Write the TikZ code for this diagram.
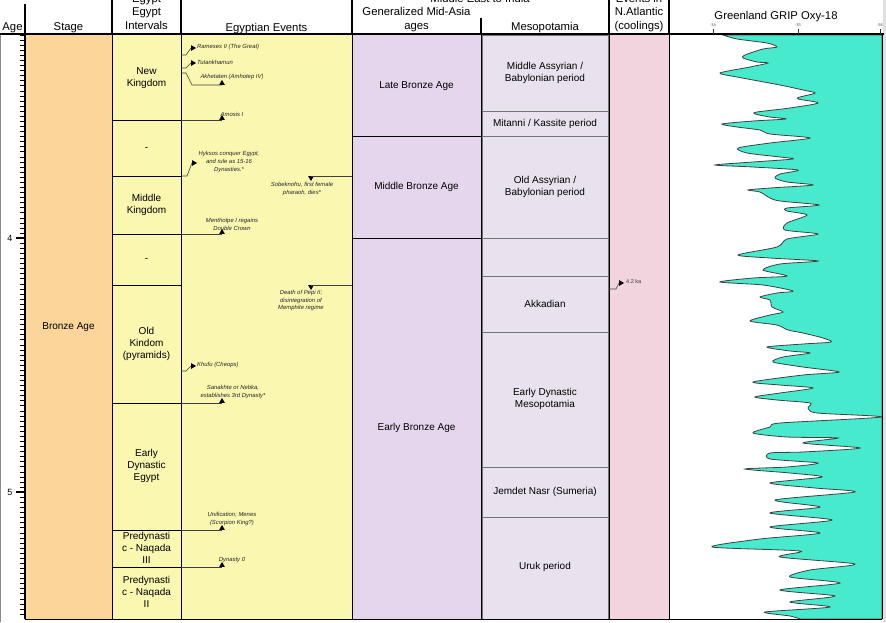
\documentclass[tikz,border=0pt]{standalone}
\usepackage{fontspec}
\setmainfont{Liberation Sans}
\usetikzlibrary{shapes.geometric}
\definecolor{stagec}{RGB}{252,213,155}
\definecolor{egc}{RGB}{250,247,176}
\definecolor{asiac}{RGB}{230,214,237}
\definecolor{mesoc}{RGB}{233,225,238}
\definecolor{atlc}{RGB}{242,212,222}
\definecolor{gripc}{RGB}{72,234,205}
\begin{document}
\begin{tikzpicture}[x=1pt,y=-1pt,
  hdr/.style={font=\fontsize{11.3}{13.5}\selectfont, inner sep=0, anchor=base},
  lab/.style={font=\fontsize{10}{12}\selectfont, align=center, inner sep=0},
  evt/.style={font=\fontsize{5.9}{7.8}\selectfont\itshape, align=center, inner sep=0, text=black!85},
  tick/.style={font=\fontsize{4}{5}\selectfont, inner sep=0, text=black!70},
  triup/.style={regular polygon, regular polygon sides=3, fill=black, draw=none, inner sep=0, minimum size=6.5pt},
  triright/.style={triup, shape border rotate=-90},
  tridown/.style={triup, shape border rotate=180},
  lead/.style={draw=black!75, line width=0.6pt},
  sep/.style={draw=black, line width=0.7pt},
  hsep/.style={draw=black, line width=1.6pt},
  mbox/.style={draw=black!55, line width=0.5pt, fill=mesoc}
]
\useasboundingbox (0,0) rectangle (886,622);
% column fills
\fill[stagec] (25,35) rectangle (112,619);
\fill[egc] (112,35) rectangle (352,619);
\fill[asiac] (352,35) rectangle (481,619);
\fill[mesoc] (481,35) rectangle (609,619);
\fill[atlc] (609,35) rectangle (669,619);
\fill[black!12] (883,0) rectangle (886,622);
% mesopotamia boxes
\foreach \a/\b in {35/111,111/136,136/238,238/276,276/332,332/467,467/517,517/619}
  \draw[mbox] (482,\a) rectangle (608,\b);
% GRIP curve
\filldraw[fill=gripc, draw=black!75, line width=0.8pt]
  (723,35) plot[smooth, tension=0.45] coordinates {
  (723,35) (737,39) (767,43) (777,47) (763,49) (745,55) (743,58) (757,62) (768,63) (750,67)
  (720,73) (737,77) (780,85) (803,90) (815,93) (800,97) (798,99) (818,103) (790,108) (757,112)
  (755,114) (770,117) (786,119) (753,121) (722,124) (737,127) (760,130) (770,134) (810,138)
  (770,143) (738,148) (747,153) (780,157) (793,159) (753,162) (715,165) (753,167) (798,170)
  (780,174) (775,178) (787,182) (813,185) (770,188) (748,190) (760,192) (770,198) (780,201)
  (819,205) (787,208) (787,211) (807,215) (787,223) (785,230) (818,234) (787,239) (777,247)
  (738,255) (770,258) (818,261) (780,264) (763,270) (787,276) (753,278) (720,282) (763,285)
  (793,291) (777,293) (760,297) (770,300) (772,307) (783,312) (770,315) (750,321) (777,325)
  (788,330) (803,333) (823,338) (831,342) (803,344) (767,347) (790,351) (810,353) (783,357)
  (773,362) (803,367) (839,372) (803,375) (753,382) (780,385) (813,388) (780,393) (755,397)
  (777,400) (810,403) (808,408) (817,413) (881,417) (780,423) (770,427) (753,433) (787,437)
  (838,438) (803,443) (860,448) (803,452) (770,453) (770,459) (818,463) (787,467) (745,469)
  (790,473) (822,477) (770,483) (815,488) (855,492) (775,500) (820,507) (770,513) (832,520)
  (770,527) (820,533) (760,539) (712,547) (800,551) (780,557) (855,564) (810,570) (790,577)
  (840,583) (780,590) (835,596) (790,602) (830,607) (765,612) (790,616) (800,619)}
  -- (882,619) -- (882,35) -- cycle;
% body separators
\foreach \x in {112,181,352,481,609,669,882}
  \draw[sep] (\x,35) -- (\x,619);
\draw[black!45, line width=0.8pt] (0.5,35) -- (0.5,622);
\draw[sep] (25,619) -- (882,619);
% egypt intervals boundaries
\foreach \y in {120,176,234,285,403,530,567}
  \draw[sep] (112,\y) -- (181,\y);
% mid-asia boundaries
\foreach \y in {136,238}
  \draw[sep] (352,\y) -- (481,\y);
% header lines
\foreach \x in {112,181,352,609,669}
  \draw[hsep] (\x,0) -- (\x,34);
\draw[hsep] (25,4) -- (25,34);
\draw[hsep] (481,18) -- (481,34);
\draw[hsep] (0,34) -- (884,34);
% age axis
\draw[line width=1.6pt] (25,34) -- (25,619);
\foreach \i in {0,...,114}
  \draw[black, line width=0.7pt] (20,{35+\i*5.08}) -- (25,{35+\i*5.08});
\draw[line width=2pt] (16,238.2) -- (25,238.2);
\draw[line width=2pt] (16,492.2) -- (25,492.2);
\node[font=\fontsize{9}{10}\selectfont, inner sep=0] (a4) at (10,238.2) {4};
\node[font=\fontsize{9}{10}\selectfont, inner sep=0] (a5) at (10,492.2) {5};
% headers
\node[hdr] (hAge) at (12.5,30) {Age};
\node[hdr] (hStage) at (68.5,30) {Stage};
\node[hdr] (hEg1) at (146.5,2) {Egypt};
\node[hdr] (hEg2) at (146.5,15.5) {Egypt};
\node[hdr] (hEg3) at (146.5,29) {Intervals};
\node[hdr] (hEv) at (266.5,31) {Egyptian Events};
\node[hdr] (hME) at (480,2) {Middle East to India};
\node[hdr] (hMA1) at (416.5,15.5) {Generalized Mid-Asia};
\node[hdr] (hMA2) at (416.5,29) {ages};
\node[hdr] (hMes) at (545,30) {Mesopotamia};
\node[hdr] (hNA1) at (639,2) {Events in};
\node[hdr] (hNA2) at (639,15.5) {N.Atlantic};
\node[hdr] (hNA3) at (639,29) {(coolings)};
\node[hdr] (hGr) at (776,19) {Greenland GRIP Oxy-18};
\foreach \x/\t [count=\k] in {713/-34,798/-35,880/-36}{
  \draw[black!80, line width=0.6pt] (\x,29) -- (\x,34);
  \node[tick] (gt\k) at (\x,25) {\t};
}
% stage
\node[lab] (stage) at (68.5,327) {Bronze Age};
% egypt intervals
\node[lab] (i1) at (146.5,78) {New\\Kingdom};
\node[lab] (i2) at (146.5,149) {-};
\node[lab] (i3) at (146.5,205) {Middle\\Kingdom};
\node[lab] (i4) at (146.5,260) {-};
\node[lab] (i5) at (146.5,344) {Old\\Kindom\\(pyramids)};
\node[lab] (i6) at (146.5,466) {Early\\Dynastic\\Egypt};
\node[lab] (i7) at (146.5,548) {Predynasti\\c - Naqada\\III};
\node[lab] (i8) at (146.5,592) {Predynasti\\c - Naqada\\II};
% mid-asia ages
\node[lab] (m1) at (416.5,86) {Late Bronze Age};
\node[lab] (m2) at (416.5,187) {Middle Bronze Age};
\node[lab] (m3) at (416.5,428) {Early Bronze Age};
% mesopotamia
\node[lab] (s1) at (545,73) {Middle Assyrian /\\Babylonian period};
\node[lab] (s2) at (545,123.5) {Mitanni / Kassite period};
\node[lab] (s3) at (545,187) {Old Assyrian /\\Babylonian period};
\node[lab] (s4) at (545,304) {Akkadian};
\node[lab] (s5) at (545,399) {Early Dynastic\\Mesopotamia};
\node[lab] (s6) at (545,492) {Jemdet Nasr (Sumeria)};
\node[lab] (s7) at (545,567) {Uruk period};
% Egyptian events
\coordinate (ra0) at (181,55); \coordinate (ra1) at (186,55);
\node[triright, anchor=west] (tra) at (191,48) {};
\draw[lead] (ra0) -- (ra1) -- (tra.west);
\node[evt, anchor=west] (era) at (197,47) {Rameses II (The Great)};

\coordinate (tu0) at (181,68); \coordinate (tu1) at (186,68);
\node[triright, anchor=west] (ttu) at (191,63) {};
\draw[lead] (tu0) -- (tu1) -- (ttu.west);
\node[evt, anchor=west] (etu) at (197,62) {Tutankhamun};

\coordinate (ak0) at (181,73); \coordinate (ak1) at (186,73); \coordinate (ak2) at (192,85);
\node[triup, anchor=south] (tak) at (222,85) {};
\draw[lead] (ak0) -- (ak1) -- (ak2) -- (tak.south);
\node[evt] (eak) at (232,77) {Akhetaten (Amhotep IV)};

\coordinate (am0) at (181,120);
\node[triup, anchor=south] (tam) at (222,120) {};
\draw[lead] (am0) -- (tam.south);
\node[evt] (eam) at (232,114) {Amosis I};

\coordinate (hy0) at (181,176); \coordinate (hy1) at (187,176);
\node[triright, anchor=west] (thy) at (192,163) {};
\draw[lead] (hy0) -- (hy1) -- (thy.west);
\node[evt] (ehy) at (229,162) {Hyksos conquer Egypt,\\and rule as 15-16\\Dynasties.*};

\coordinate (so0) at (352,176);
\node[tridown, anchor=north] (tso) at (311,176) {};
\draw[lead] (so0) -- (tso.north);
\node[evt] (eso) at (302,189) {Sobeknofru, first female\\pharaoh, dies*};

\coordinate (me0) at (181,234);
\node[triup, anchor=south] (tme) at (222,234) {};
\draw[lead] (me0) -- (tme.south);
\node[evt] (eme) at (232,224) {Menthotpe I regains\\Double Crown};

\coordinate (pe0) at (352,285);
\node[tridown, anchor=north] (tpe) at (311,285) {};
\draw[lead] (pe0) -- (tpe.north);
\node[evt] (epe) at (301,300.5) {Death of Pepi II;\\disintegration of\\Memphite regime};

\coordinate (kh0) at (181,371); \coordinate (kh1) at (186,371);
\node[triright, anchor=west] (tkh) at (191,366) {};
\draw[lead] (kh0) -- (kh1) -- (tkh.west);
\node[evt, anchor=west] (ekh) at (197,365) {Khufu (Cheops)};

\coordinate (sa0) at (181,403);
\node[triup, anchor=south] (tsa) at (222,403) {};
\draw[lead] (sa0) -- (tsa.south);
\node[evt] (esa) at (233,392) {Sanakhte or Nebka,\\establishes 3rd Dynasty*};

\coordinate (un0) at (181,530);
\node[triup, anchor=south] (tun) at (222,530) {};
\draw[lead] (un0) -- (tun.south);
\node[evt] (eun) at (232,519) {Unification; Menes\\(Scorpion King?)};

\coordinate (dy0) at (181,567);
\node[triup, anchor=south] (tdy) at (222,567) {};
\draw[lead] (dy0) -- (tdy.south);
\node[evt] (edy) at (232,560) {Dynasty 0};

% N. Atlantic event
\coordinate (na0) at (609,289); \coordinate (na1) at (616,289);
\node[triright, anchor=west] (tna) at (619,283) {};
\draw[lead] (na0) -- (na1) -- (tna.west);
\node[font=\fontsize{5.5}{6}\selectfont, inner sep=0, anchor=west, text=black!80] (ena) at (626,282) {4.2 ka};
\end{tikzpicture}
\end{document}
